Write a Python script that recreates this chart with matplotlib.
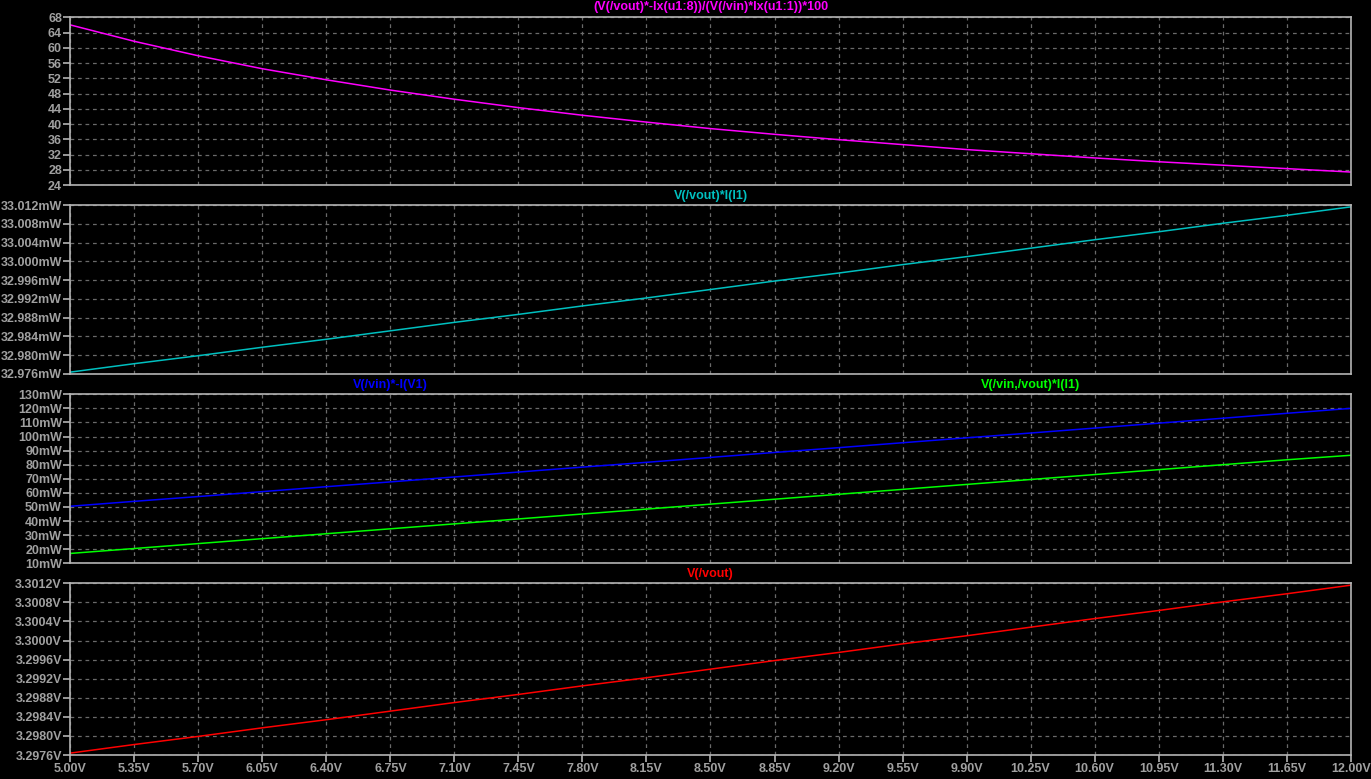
import matplotlib
matplotlib.use("Agg")
import matplotlib.pyplot as plt
from matplotlib.ticker import FixedLocator, FuncFormatter

plt.rcParams['font.family'] = ['Liberation Sans', 'DejaVu Sans']
plt.rcParams['font.weight'] = 'bold'

# sweep of V(/vin), read at every x grid line
vin = [5.00, 5.35, 5.70, 6.05, 6.40, 6.75, 7.10, 7.45, 7.80, 8.15, 8.50,
       8.85, 9.20, 9.55, 9.90, 10.25, 10.60, 10.95, 11.30, 11.65, 12.00]

# efficiency (%)
eff = [66.0, 61.7, 57.9, 54.5, 51.6, 48.9, 46.5, 44.3, 42.3, 40.5, 38.8,
       37.3, 35.9, 34.6, 33.3, 32.2, 31.1, 30.1, 29.2, 28.3, 27.4]

# output power (mW)
p_out = [32.9764, 32.9782, 32.9799, 32.9817, 32.9834, 32.9852, 32.9870,
         32.9887, 32.9905, 32.9922, 32.9940, 32.9958, 32.9975, 32.9993,
         33.0010, 33.0028, 33.0046, 33.0063, 33.0081, 33.0098, 33.0116]

# input power and regulator loss (mW)
p_in = [50.5, 54.0, 57.4, 60.9, 64.4, 67.8, 71.3, 74.8, 78.3, 81.7, 85.2,
        88.7, 92.1, 95.6, 99.1, 102.5, 106.0, 109.5, 113.0, 116.5, 120.0]
p_loss = [17.0, 20.5, 24.0, 27.5, 31.0, 34.5, 38.0, 41.5, 45.0, 48.5, 52.0,
          55.5, 59.0, 62.5, 66.0, 69.5, 73.0, 76.5, 80.0, 83.5, 86.7]

# output voltage (V)
v_out = [3.29764, 3.29782, 3.29799, 3.29817, 3.29834, 3.29852, 3.29870,
         3.29887, 3.29905, 3.29922, 3.29940, 3.29958, 3.29975, 3.29993,
         3.30010, 3.30028, 3.30046, 3.30063, 3.30081, 3.30098, 3.30116]

x_ticks = [5.00 + 0.35 * i for i in range(21)]
eff_ticks = list(range(24, 69, 4))
pout_ticks = [32.976 + 0.004 * i for i in range(10)]
pin_ticks = list(range(10, 131, 10))
vout_ticks = [3.2976 + 0.0004 * i for i in range(10)]

FRAME = '#b4b4b4'
LABEL = '#a0a0a0'
GRID = '#6a6a6a'
W, H = 1371, 779

fig = plt.figure(figsize=(W / 100, H / 100), dpi=100, facecolor='black')


def make_pane(top, bottom):
    left, right = 70.3, 1350.7
    ax = fig.add_axes([left / W, 1 - bottom / H, (right - left) / W, (bottom - top) / H])
    ax.set_facecolor('black')
    for sp in ax.spines.values():
        sp.set_color(FRAME)
        sp.set_linewidth(1.2)
    ax.set_xlim(5.0, 12.0)
    ax.xaxis.set_major_locator(FixedLocator(x_ticks))
    ax.grid(True, color=GRID, linestyle=(0, (3, 3)), linewidth=0.9)
    ax.tick_params(colors=FRAME, labelcolor=LABEL, labelsize=9, length=5, width=1.2, pad=1)
    for lbl in ax.get_yticklabels():
        lbl.set_fontweight('bold')
    return ax


ax1 = make_pane(17.3, 185.0)
ax1.plot(vin, eff, color='#ff00ff', lw=1.1)
ax1.set_ylim(24, 68)
ax1.yaxis.set_major_locator(FixedLocator(eff_ticks))
ax1.yaxis.set_major_formatter(FuncFormatter(lambda v, p: f"{v:.0f}"))
ax1.text(0.5, 1.06, "(V(/vout)*-Ix(u1:8))/(V(/vin)*Ix(u1:1))*100", transform=ax1.transAxes,
         color='#ff00ff', ha='center', va='center', fontsize=9, fontweight='bold')

ax2 = make_pane(205.0, 374.0)
ax2.plot(vin, p_out, color='#00c0c0', lw=1.1)
ax2.set_ylim(32.976, 33.012)
ax2.yaxis.set_major_locator(FixedLocator(pout_ticks))
ax2.yaxis.set_major_formatter(FuncFormatter(lambda v, p: f"{v:.3f}mW"))
ax2.text(0.5, 1.055, "V(/vout)*I(l1)", transform=ax2.transAxes,
         color='#00c0c0', ha='center', va='center', fontsize=9, fontweight='bold')

ax3 = make_pane(394.3, 563.3)
ax3.plot(vin, p_in, color='#0000ff', lw=1.1)
ax3.plot(vin, p_loss, color='#00ff00', lw=1.1)
ax3.set_ylim(10, 130)
ax3.yaxis.set_major_locator(FixedLocator(pin_ticks))
ax3.yaxis.set_major_formatter(FuncFormatter(lambda v, p: f"{v:.0f}mW"))
ax3.text(0.25, 1.055, "V(/vin)*-I(V1)", transform=ax3.transAxes,
         color='#0000ff', ha='center', va='center', fontsize=9, fontweight='bold')
ax3.text(0.75, 1.055, "V(/vin,/vout)*I(l1)", transform=ax3.transAxes,
         color='#00ff00', ha='center', va='center', fontsize=9, fontweight='bold')

ax4 = make_pane(583.3, 755.0)
ax4.plot(vin, v_out, color='#ff0000', lw=1.1)
ax4.set_ylim(3.2976, 3.3012)
ax4.yaxis.set_major_locator(FixedLocator(vout_ticks))
ax4.yaxis.set_major_formatter(FuncFormatter(lambda v, p: f"{v:.4f}V"))
ax4.text(0.5, 1.055, "V(/vout)", transform=ax4.transAxes,
         color='#ff0000', ha='center', va='center', fontsize=9, fontweight='bold')

for ax in (ax1, ax2, ax3):
    ax.tick_params(axis='x', length=0, labelbottom=False)
ax4.xaxis.set_major_formatter(FuncFormatter(lambda v, p: f"{v:.2f}V"))
for lbl in ax4.get_xticklabels():
    lbl.set_fontweight('bold')

fig.savefig("out.png", dpi=100, facecolor='black')
